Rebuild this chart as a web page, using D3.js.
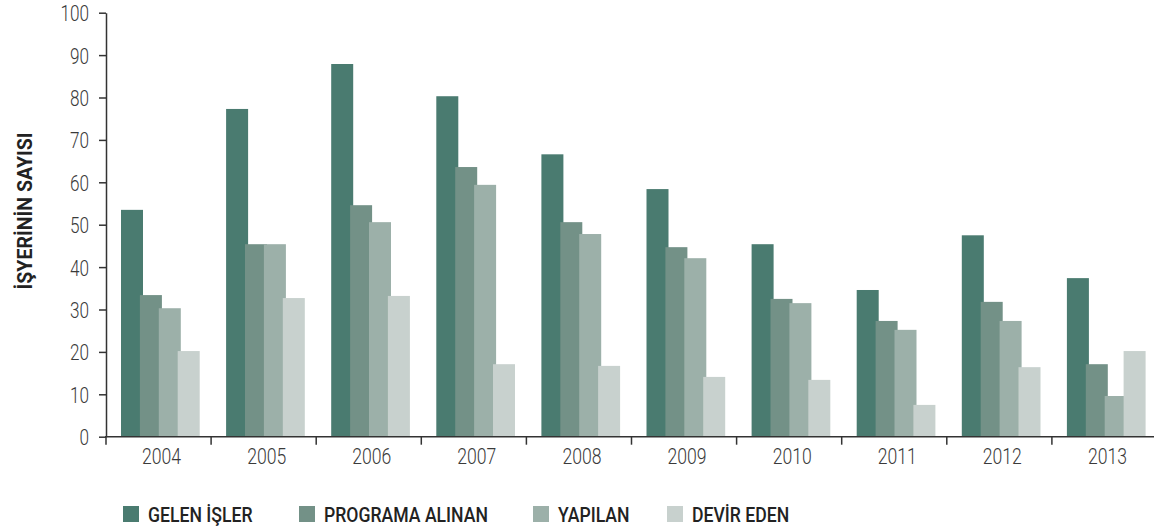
<!DOCTYPE html>
<html>
<head>
<meta charset="utf-8">
<script src="https://cdn.jsdelivr.net/npm/d3@7"></script>
<style>
  html, body { margin: 0; padding: 0; background: #fff; }
  svg { display: block; }
</style>
</head>
<body>
<svg id="chart" width="1154" height="530"></svg>
<script>
const years = ["2004","2005","2006","2007","2008","2009","2010","2011","2012","2013"];
const seriesNames = ["GELEN İŞLER", "PROGRAMA ALINAN", "YAPILAN", "DEVİR EDEN"];
const gelen    = [53.5, 77.3, 87.9, 80.3, 66.6, 58.4, 45.4, 34.6, 47.5, 37.4];
const programa = [33.4, 45.4, 54.6, 63.6, 50.6, 44.7, 32.5, 27.3, 31.8, 17.1];
const yapilan  = [30.3, 45.4, 50.6, 59.4, 47.8, 42.1, 31.5, 25.2, 27.3,  9.6];
const devir    = [20.2, 32.7, 33.2, 17.1, 16.7, 14.1, 13.4,  7.5, 16.4, 20.2];
const yTicks = [0,10,20,30,40,50,60,70,80,90,100];
const colors = ["#4a7b70", "#739187", "#9cb0a9", "#c8d1ce"];
const yLabel = "İŞYERİNİN SAYISI";

const FONT = "Roboto, 'DejaVu Sans', sans-serif";
const seriesValues = [gelen, programa, yapilan, devir];
const svg = d3.select("#chart");

function condense(sel, k) {
  sel.each(function () {
    const t = d3.select(this);
    const x0 = +t.attr("x") || 0;
    t.attr("x", x0 / k).attr("transform", `scale(${k},1)`);
  });
}

const x = d3.scaleBand().domain(years).range([106, 106 + 105.1 * 10]).padding(0);
const y = d3.scaleLinear().domain([0, 100]).range([436.7, 12.7]);
const xs = d3.scalePoint().domain(seriesNames).range([15, 15 + 3 * 18.9]);
const color = d3.scaleOrdinal().domain(seriesNames).range(colors);
const barW = 22;

// bars
seriesNames.forEach((s, si) => {
  svg.append("g").selectAll("rect")
    .data(years.map((yr, i) => ({ yr, v: seriesValues[si][i] })))
    .join("rect")
    .attr("x", d => x(d.yr) + xs(s))
    .attr("y", d => y(d.v))
    .attr("width", barW)
    .attr("height", d => y(0) - y(d.v))
    .attr("fill", color(s));
});

// y axis
const yAxis = svg.append("g")
  .attr("transform", "translate(106,0)")
  .call(d3.axisLeft(y).tickValues(yTicks).tickSize(7).tickPadding(10).tickSizeOuter(0));
yAxis.select(".domain").attr("stroke", "#333").attr("stroke-width", 1.5);
yAxis.selectAll(".tick line").attr("stroke", "#333").attr("stroke-width", 1.5);
yAxis.selectAll(".tick text")
  .attr("font-family", FONT).attr("font-weight", 300)
  .attr("font-size", 22).attr("fill", "#3a3a3a").attr("dy", "0.36em");
condense(yAxis.selectAll(".tick text"), 0.78);

// x axis
const xAxisG = svg.append("g");
xAxisG.append("line")
  .attr("x1", 105).attr("x2", 1154)
  .attr("y1", y(0)).attr("y2", y(0))
  .attr("stroke", "#333").attr("stroke-width", 1.5);
xAxisG.selectAll("line.xt")
  .data(years)
  .join("line")
  .attr("class", "xt")
  .attr("x1", d => x(d)).attr("x2", d => x(d))
  .attr("y1", y(0)).attr("y2", y(0) + 8)
  .attr("stroke", "#333").attr("stroke-width", 1.5);
const xl = xAxisG.selectAll("text.xl")
  .data(years)
  .join("text")
  .attr("class", "xl")
  .attr("x", d => x(d) + x.bandwidth() / 2 + 3)
  .attr("y", 464)
  .attr("text-anchor", "middle")
  .attr("font-family", FONT).attr("font-weight", 300)
  .attr("font-size", 22)
  .attr("fill", "#3a3a3a")
  .text(d => d);
condense(xl, 0.8);

// y label
const yl = svg.append("g").attr("transform", "translate(32,211) rotate(-90)")
  .append("text")
  .attr("text-anchor", "middle")
  .attr("font-family", FONT)
  .attr("font-weight", "bold")
  .attr("font-size", 20)
  .attr("fill", "#222")
  .text(yLabel);
condense(yl, 0.98);

// legend
const legendX = [123, 299, 533, 667];
const leg = svg.append("g");
seriesNames.forEach((s, i) => {
  leg.append("rect")
    .attr("x", legendX[i]).attr("y", 506)
    .attr("width", 16).attr("height", 16)
    .attr("fill", color(s));
  const t = leg.append("text")
    .attr("x", legendX[i] + 25).attr("y", 522)
    .attr("font-family", FONT)
    .attr("font-weight", 500)
    .attr("font-size", 21)
    .attr("fill", "#222")
    .text(s);
  condense(t, 0.84);
});
</script>
</body>
</html>
